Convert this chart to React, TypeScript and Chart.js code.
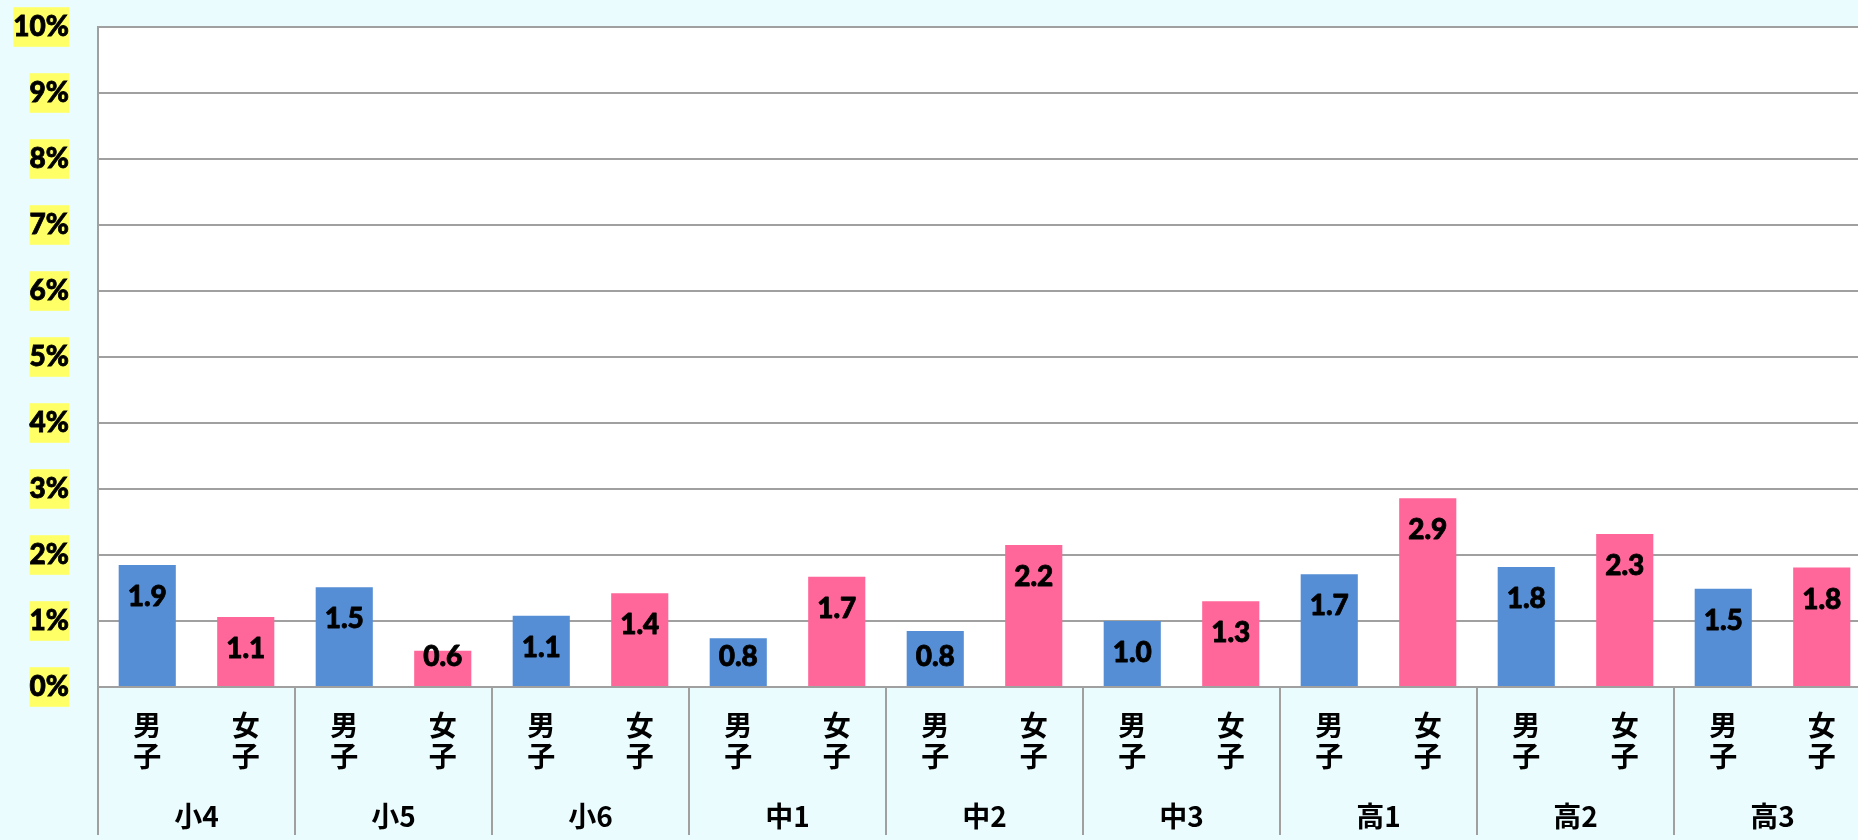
import React, { useEffect, useRef } from "react";
import { Chart, registerables } from "chart.js";

Chart.register(...registerables);

const groups = ["小4", "小5", "小6", "中1", "中2", "中3", "高1", "高2", "高3"];
const genders = ["男子", "女子"];
const boysValues = [1.85, 1.51, 1.08, 0.74, 0.85, 1.0, 1.71, 1.82, 1.49];
const girlsValues = [1.06, 0.55, 1.42, 1.67, 2.15, 1.3, 2.86, 2.32, 1.81];
const boysLabels = ["1.9", "1.5", "1.1", "0.8", "0.8", "1.0", "1.7", "1.8", "1.5"];
const girlsLabels = ["1.1", "0.6", "1.4", "1.7", "2.2", "1.3", "2.9", "2.3", "1.8"];
const yMax = 10;

const BG = "#EAFCFE";
const GRID = "#A0A0A0";
const NUM_FONT = "900 28px Lato, 'Noto Sans', sans-serif";
const CJK_FONT = "bold 28px 'Noto Sans CJK JP', 'Noto Sans CJK SC', sans-serif";

export default function App() {
  const ref = useRef<HTMLCanvasElement | null>(null);

  useEffect(() => {
    if (!ref.current) return;
    const labelsPerDataset = [boysLabels, girlsLabels];

    const plotBg = {
      id: "plotBg",
      beforeDraw(chart: any) {
        const { ctx, chartArea } = chart;
        ctx.save();
        ctx.fillStyle = "#FFFFFF";
        ctx.fillRect(chartArea.left, chartArea.top, chartArea.right - chartArea.left, chartArea.bottom - chartArea.top);
        ctx.restore();
      },
    };

    const overlay = {
      id: "overlay",
      afterDraw(chart: any) {
        const { ctx, chartArea } = chart;
        const xs = chart.scales.x;
        ctx.save();
        ctx.strokeStyle = GRID;
        ctx.lineWidth = 2;
        for (let k = 0; k <= groups.length; k++) {
          const x = Math.round(xs.getPixelForValue(k - 0.5));
          ctx.beginPath();
          ctx.moveTo(x, chartArea.bottom);
          ctx.lineTo(x, chartArea.bottom + 148);
          ctx.stroke();
        }
        ctx.fillStyle = "#000";
        ctx.textAlign = "center";
        ctx.textBaseline = "middle";
        ctx.font = CJK_FONT;
        groups.forEach((g, i) => {
          ctx.fillText(g, xs.getPixelForValue(i), chartArea.bottom + 129);
        });
        chart.data.datasets.forEach((ds: any, di: number) => {
          const meta = chart.getDatasetMeta(di);
          const chars = Array.from(genders[di]);
          meta.data.forEach((bar: any, i: number) => {
            ctx.font = CJK_FONT;
            ctx.fillStyle = "#000";
            chars.forEach((c, ci) => {
              ctx.fillText(c, bar.x, chartArea.bottom + 38 + ci * 31);
            });
            ctx.font = NUM_FONT;
            const y = Math.min(bar.y + 32, bar.base - 29);
            ctx.strokeStyle = "#000";
            ctx.lineWidth = 0.8;
            ctx.lineJoin = "round";
            ctx.strokeText(labelsPerDataset[di][i], bar.x, y);
            ctx.fillText(labelsPerDataset[di][i], bar.x, y);
          });
        });
        ctx.restore();
      },
    };

    const chart = new Chart(ref.current, {
      type: "bar",
      data: {
        labels: groups,
        datasets: [
          { label: genders[0], data: boysValues, backgroundColor: "#558ED5", borderWidth: 0 },
          { label: genders[1], data: girlsValues, backgroundColor: "#FF6699", borderWidth: 0 },
        ],
      },
      options: {
        responsive: false,
        animation: false,
        events: [],
        layout: { padding: { left: 0, top: 27, right: 9, bottom: 153 } },
        datasets: { bar: { categoryPercentage: 1.0, barPercentage: 0.58 } },
        plugins: { legend: { display: false }, tooltip: { enabled: false } },
        scales: {
          x: { display: false, offset: true },
          y: {
            min: 0,
            max: yMax,
            afterFit: (s: any) => {
              s.width = 98;
              s.paddingTop = 0;
              s.paddingBottom = 0;
            },
            grid: { color: GRID, lineWidth: 2, drawTicks: false },
            border: { display: true, color: GRID, width: 2 },
            ticks: {
              stepSize: 1,
              padding: 29,
              color: "#000",
              font: { family: "Lato, 'Noto Sans', sans-serif", size: 28, weight: "900" },
              callback: (v: any) => v + "%",
              textStrokeColor: "#000",
              textStrokeWidth: 0.8,
              showLabelBackdrop: true,
              backdropColor: "#FFFF66",
              backdropPadding: { top: 3, bottom: 3, left: 0, right: 0 },
            } as any,
          },
        },
      },
      plugins: [plotBg, overlay],
    } as any);
    return () => chart.destroy();
  }, []);

  return (
    <div style={{ position: "fixed", left: 0, top: 0, width: 1858, height: 840, overflow: "hidden", background: BG }}>
      <canvas ref={ref} width={1880} height={840} style={{ display: "block", width: 1880, height: 840 }} />
    </div>
  );
}
